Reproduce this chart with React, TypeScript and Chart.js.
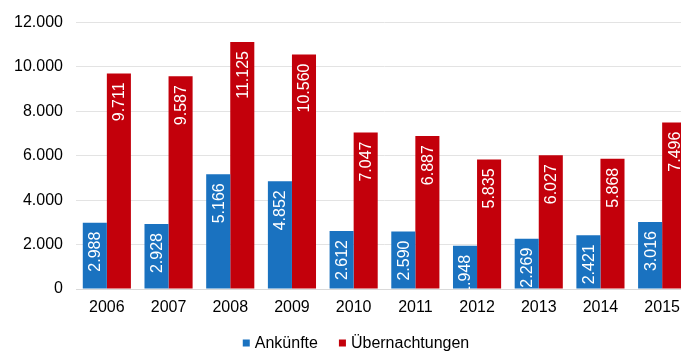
import React, { useEffect, useRef } from "react";
import { Chart, registerables } from "chart.js";

Chart.register(...registerables);

const years = ["2006", "2007", "2008", "2009", "2010", "2011", "2012", "2013", "2014", "2015"];
const ankuenfte = [2988, 2928, 5166, 4852, 2612, 2590, 1948, 2269, 2421, 3016];
const uebernachtungen = [9711, 9587, 11125, 10560, 7047, 6887, 5835, 6027, 5868, 7496];
const yTicks = [0, 2000, 4000, 6000, 8000, 10000, 12000];

const fmt = (v: number) => {
  const s = Math.round(v).toString();
  return s.replace(/\B(?=(\d{3})+(?!\d))/g, ".");
};

const FONT = "'Liberation Sans', Arial, sans-serif";

const barLabels = {
  id: "barLabels",
  afterDatasetsDraw(chart: any) {
    const ctx = chart.ctx;
    const area = chart.chartArea;
    ctx.save();
    ctx.beginPath();
    ctx.rect(area.left, area.top, area.right - area.left, area.bottom - area.top);
    ctx.clip();
    ctx.font = `16px ${FONT}`;
    ctx.fillStyle = "#ffffff";
    ctx.textAlign = "right";
    ctx.textBaseline = "middle";
    chart.data.datasets.forEach((ds: any, di: number) => {
      const meta = chart.getDatasetMeta(di);
      meta.data.forEach((bar: any, i: number) => {
        const v = ds.data[i];
        ctx.save();
        ctx.translate(bar.x, bar.y + 9);
        ctx.rotate(-Math.PI / 2);
        ctx.fillText(fmt(v), 0, 1);
        ctx.restore();
      });
    });
    ctx.restore();
  },
};

const bottomLegend = {
  id: "bottomLegend",
  afterDraw(chart: any) {
    const ctx = chart.ctx;
    ctx.save();
    ctx.font = `16px ${FONT}`;
    ctx.textBaseline = "middle";
    ctx.textAlign = "left";
    const box = 7;
    const gap = 5;
    const itemGap = 21;
    const items = chart.data.datasets.map((ds: any) => ({
      label: ds.label,
      color: ds.backgroundColor,
      w: ctx.measureText(ds.label).width,
    }));
    let total = 0;
    items.forEach((it: any, i: number) => {
      total += box + gap + it.w + (i > 0 ? itemGap : 0);
    });
    let x = chart.width / 2 - total / 2;
    const y = 343;
    items.forEach((it: any, i: number) => {
      if (i > 0) x += itemGap;
      ctx.fillStyle = it.color;
      ctx.fillRect(x, y - 3.5, box, box);
      x += box + gap;
      ctx.fillStyle = "#000";
      ctx.fillText(it.label, x, y + 1);
      x += it.w;
    });
    ctx.restore();
  },
};

export default function App() {
  const ref = useRef<HTMLCanvasElement | null>(null);
  useEffect(() => {
    if (!ref.current) return;
    const chart = new Chart(ref.current, {
      type: "bar",
      data: {
        labels: years,
        datasets: [
          {
            label: "Ankünfte",
            data: ankuenfte,
            backgroundColor: "#1a72c0",
            categoryPercentage: 0.78,
            barPercentage: 1,
          },
          {
            label: "Übernachtungen",
            data: uebernachtungen,
            backgroundColor: "#c3000b",
            categoryPercentage: 0.78,
            barPercentage: 1,
          },
        ],
      },
      options: {
        animation: false,
        responsive: false,
        maintainAspectRatio: false,
        layout: { padding: { top: 14, right: 19, bottom: 0, left: 0 } },
        plugins: {
          tooltip: { enabled: false },
          legend: { display: false },
        },
        scales: {
          x: {
            grid: { display: false, drawTicks: false },
            border: { display: true, color: "#d9d9d9" },
            ticks: { color: "#000", padding: 9, font: { family: FONT, size: 16 } },
            afterFit: (s: any) => {
              s.height = 63;
            },
          },
          y: {
            min: 0,
            max: 12000,
            afterBuildTicks: (s: any) => {
              s.ticks = yTicks.map((v) => ({ value: v }));
            },
            afterFit: (s: any) => {
              s.width = 76;
            },
            grid: { color: "#e3e3e3", drawTicks: false },
            border: { display: false },
            ticks: {
              color: "#000",
              padding: 13,
              font: { family: FONT, size: 16 },
              callback: (v: any) => fmt(Number(v)),
            },
          },
        },
      },
      plugins: [barLabels, bottomLegend],
    });
    return () => chart.destroy();
  }, []);
  return (
    <div style={{ position: "fixed", left: 0, top: 0, width: 681, height: 352, overflow: "hidden", background: "#fff" }}>
      <canvas ref={ref} width={712} height={352} style={{ width: 712, height: 352, display: "block" }} />
    </div>
  );
}
